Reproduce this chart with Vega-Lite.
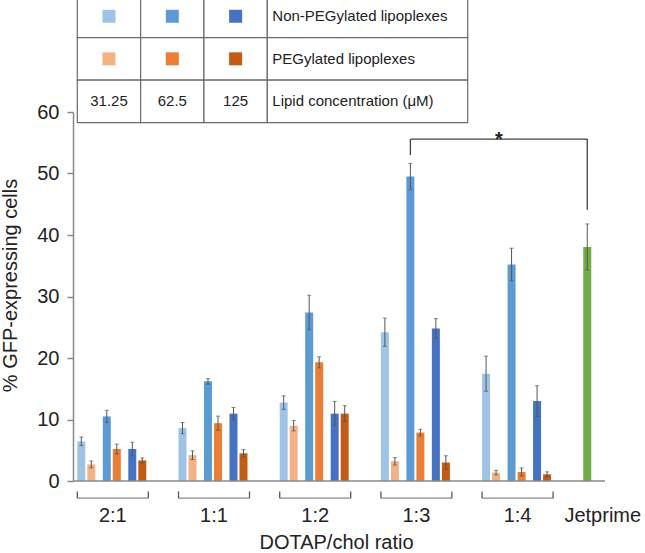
{
  "$schema": "https://vega.github.io/schema/vega-lite/v6.json",
  "width": 532,
  "height": 369,
  "autosize": {"type": "none"},
  "padding": {"left": 73, "top": 112, "right": 40, "bottom": 72},
  "config": {"font": "Liberation Sans", "view": {"stroke": null}},
  "datasets": {
    "bars": [
      {"ratio": "2:1", "coating": "Non-PEGylated", "conc": "31.25", "pct": 6.45, "sd": 0.7},
      {"ratio": "2:1", "coating": "PEGylated", "conc": "31.25", "pct": 2.7, "sd": 0.55},
      {"ratio": "2:1", "coating": "Non-PEGylated", "conc": "62.5", "pct": 10.5, "sd": 1.0},
      {"ratio": "2:1", "coating": "PEGylated", "conc": "62.5", "pct": 5.2, "sd": 0.8},
      {"ratio": "2:1", "coating": "Non-PEGylated", "conc": "125", "pct": 5.2, "sd": 1.1},
      {"ratio": "2:1", "coating": "PEGylated", "conc": "125", "pct": 3.35, "sd": 0.4},
      {"ratio": "1:1", "coating": "Non-PEGylated", "conc": "31.25", "pct": 8.6, "sd": 0.9},
      {"ratio": "1:1", "coating": "PEGylated", "conc": "31.25", "pct": 4.2, "sd": 0.7},
      {"ratio": "1:1", "coating": "Non-PEGylated", "conc": "62.5", "pct": 16.2, "sd": 0.45},
      {"ratio": "1:1", "coating": "PEGylated", "conc": "62.5", "pct": 9.4, "sd": 1.15},
      {"ratio": "1:1", "coating": "Non-PEGylated", "conc": "125", "pct": 10.95, "sd": 1.0},
      {"ratio": "1:1", "coating": "PEGylated", "conc": "125", "pct": 4.5, "sd": 0.6},
      {"ratio": "1:2", "coating": "Non-PEGylated", "conc": "31.25", "pct": 12.75, "sd": 1.1},
      {"ratio": "1:2", "coating": "PEGylated", "conc": "31.25", "pct": 9.0, "sd": 0.85},
      {"ratio": "1:2", "coating": "Non-PEGylated", "conc": "62.5", "pct": 27.4, "sd": 2.8},
      {"ratio": "1:2", "coating": "PEGylated", "conc": "62.5", "pct": 19.3, "sd": 0.9},
      {"ratio": "1:2", "coating": "Non-PEGylated", "conc": "125", "pct": 10.95, "sd": 2.0},
      {"ratio": "1:2", "coating": "PEGylated", "conc": "125", "pct": 10.95, "sd": 1.3},
      {"ratio": "1:3", "coating": "Non-PEGylated", "conc": "31.25", "pct": 24.2, "sd": 2.3},
      {"ratio": "1:3", "coating": "PEGylated", "conc": "31.25", "pct": 3.2, "sd": 0.6},
      {"ratio": "1:3", "coating": "Non-PEGylated", "conc": "62.5", "pct": 49.5, "sd": 2.15},
      {"ratio": "1:3", "coating": "PEGylated", "conc": "62.5", "pct": 7.87, "sd": 0.55},
      {"ratio": "1:3", "coating": "Non-PEGylated", "conc": "125", "pct": 24.8, "sd": 1.6},
      {"ratio": "1:3", "coating": "PEGylated", "conc": "125", "pct": 3.0, "sd": 1.1},
      {"ratio": "1:4", "coating": "Non-PEGylated", "conc": "31.25", "pct": 17.45, "sd": 2.85},
      {"ratio": "1:4", "coating": "PEGylated", "conc": "31.25", "pct": 1.36, "sd": 0.37},
      {"ratio": "1:4", "coating": "Non-PEGylated", "conc": "62.5", "pct": 35.2, "sd": 2.65},
      {"ratio": "1:4", "coating": "PEGylated", "conc": "62.5", "pct": 1.47, "sd": 0.65},
      {"ratio": "1:4", "coating": "Non-PEGylated", "conc": "125", "pct": 13.0, "sd": 2.5},
      {"ratio": "1:4", "coating": "PEGylated", "conc": "125", "pct": 1.09, "sd": 0.4}
    ],
    "jet": [
      {"ratio": "Jetprime", "reagent": "jetPRIME", "pct": 38.05, "sd": 3.75}
    ],
    "sig": [
      {"from": "1:3", "to": "Jetprime", "top": 55.6, "fromEnd": 53.0, "toEnd": 44.1, "label": "*"}
    ],
    "legend": [
      {"row": "Non-PEGylated lipoplexes", "coating": "Non-PEGylated", "conc": "31.25"},
      {"row": "Non-PEGylated lipoplexes", "coating": "Non-PEGylated", "conc": "62.5"},
      {"row": "Non-PEGylated lipoplexes", "coating": "Non-PEGylated", "conc": "125"},
      {"row": "PEGylated lipoplexes", "coating": "PEGylated", "conc": "31.25"},
      {"row": "PEGylated lipoplexes", "coating": "PEGylated", "conc": "62.5"},
      {"row": "PEGylated lipoplexes", "coating": "PEGylated", "conc": "125"},
      {"row": "Lipid concentration (μM)", "coating": "none", "conc": "31.25"},
      {"row": "Lipid concentration (μM)", "coating": "none", "conc": "62.5"},
      {"row": "Lipid concentration (μM)", "coating": "none", "conc": "125"}
    ]
  },
  "resolve": {"scale": {"x": "independent", "y": "independent"}},
  "layer": [
    {
      "resolve": {"scale": {"xOffset": "independent", "color": "independent"}},
      "layer": [
        {
          "data": {"name": "bars"},
          "transform": [{"filter": "datum.coating === 'Non-PEGylated'"}],
          "encoding": {
            "x": {"field": "ratio", "type": "nominal", "sort": null, "title": "DOTAP/chol ratio",
              "scale": {"domain": ["2:1", "1:1", "1:2", "1:3", "1:4", "Jetprime"], "range": [4.3, 581.3], "paddingInner": 0.298, "paddingOuter": 0},
              "axis": {"title": "DOTAP/chol ratio", "domain": false, "ticks": false, "grid": false, "labelAngle": 0,
                "labelFontSize": 20, "labelColor": "#222", "labelPadding": 40.7, "labelBaseline": "alphabetic",
                "labelOffset": {"condition": {"test": "datum.value === 'Jetprime'", "value": -16}, "value": 0},
                "titleFontSize": 20, "titleFontWeight": "normal", "titleColor": "#222", "titleX": 263, "titleY": 67, "titleBaseline": "alphabetic"}},
            "xOffset": {"field": "conc", "type": "nominal", "sort": null,
              "scale": {"domain": ["31.25", "62.5", "125"], "range": [0, 59], "paddingInner": 0.686, "paddingOuter": 0}}
          },
          "layer": [
            {
              "mark": {"type": "bar"},
              "encoding": {
                "y": {"field": "pct", "type": "quantitative", "title": "% GFP-expressing cells",
                  "scale": {"domain": [0, 60], "nice": false},
                  "axis": {"title": "% GFP-expressing cells", "values": [0, 10, 20, 30, 40, 50, 60], "grid": false,
                    "domainColor": "#898989", "domainWidth": 1.5, "tickColor": "#898989", "tickWidth": 1.5, "tickSize": 6,
                    "labelFontSize": 20, "labelColor": "#222", "labelPadding": 8,
                    "titleFontSize": 20, "titleFontWeight": "normal", "titleColor": "#222",
                    "titleX": -56.4, "titleY": 173, "titleBaseline": "alphabetic"}},
                "color": {"field": "conc", "type": "nominal", "scale": {"domain": ["31.25", "62.5", "125"], "range": ["#9DC3E6", "#5B9BD5", "#4472C4"]}, "legend": null}
              }
            },
            {
              "mark": {"type": "errorbar", "ticks": {"size": 4, "thickness": 1, "color": "#555555"}, "rule": {"color": "#555555", "strokeWidth": 1}},
              "encoding": {"y": {"field": "pct", "type": "quantitative", "title": "% GFP-expressing cells"}, "yError": {"field": "sd"}}
            }
          ]
        },
        {
          "data": {"name": "bars"},
          "transform": [{"filter": "datum.coating === 'PEGylated'"}],
          "encoding": {
            "x": {"field": "ratio", "type": "nominal", "sort": null, "title": "DOTAP/chol ratio",
              "scale": {"domain": ["2:1", "1:1", "1:2", "1:3", "1:4", "Jetprime"], "range": [4.3, 581.3], "paddingInner": 0.298, "paddingOuter": 0}},
            "xOffset": {"field": "conc", "type": "nominal", "sort": null,
              "scale": {"domain": ["31.25", "62.5", "125"], "range": [10, 69], "paddingInner": 0.686, "paddingOuter": 0}}
          },
          "layer": [
            {
              "mark": {"type": "bar"},
              "encoding": {
                "y": {"field": "pct", "type": "quantitative", "title": "% GFP-expressing cells"},
                "color": {"field": "conc", "type": "nominal", "scale": {"domain": ["31.25", "62.5", "125"], "range": ["#F4B183", "#ED7D31", "#C55A11"]}, "legend": null}
              }
            },
            {
              "mark": {"type": "errorbar", "ticks": {"size": 4, "thickness": 1, "color": "#555555"}, "rule": {"color": "#555555", "strokeWidth": 1}},
              "encoding": {"y": {"field": "pct", "type": "quantitative", "title": "% GFP-expressing cells"}, "yError": {"field": "sd"}}
            }
          ]
        },
        {
          "data": {"name": "jet"},
          "encoding": {
            "x": {"field": "ratio", "type": "nominal", "sort": null, "title": "DOTAP/chol ratio",
              "scale": {"domain": ["2:1", "1:1", "1:2", "1:3", "1:4", "Jetprime"], "range": [4.3, 581.3], "paddingInner": 0.298, "paddingOuter": 0}},
            "xOffset": {"field": "reagent", "type": "nominal",
              "scale": {"domain": ["jetPRIME"], "range": [0, 8], "paddingInner": 0, "paddingOuter": 0}}
          },
          "layer": [
            {"mark": {"type": "bar", "color": "#70AD47"}, "encoding": {"y": {"field": "pct", "type": "quantitative", "title": "% GFP-expressing cells"}}},
            {
              "mark": {"type": "errorbar", "ticks": {"size": 4, "thickness": 1, "color": "#555555"}, "rule": {"color": "#555555", "strokeWidth": 1}},
              "encoding": {"y": {"field": "pct", "type": "quantitative", "title": "% GFP-expressing cells"}, "yError": {"field": "sd"}}
            }
          ]
        },
        {
          "data": {"name": "jet"},
          "mark": {"type": "rule", "color": "#898989", "strokeWidth": 1.5},
          "encoding": {"y": {"datum": 0, "type": "quantitative", "title": "% GFP-expressing cells"}}
        },
        {
          "data": {"name": "bars"},
          "transform": [{"filter": "datum.coating === 'Non-PEGylated' && datum.conc === '31.25'"}],
          "encoding": {
            "x": {"field": "ratio", "type": "nominal", "sort": null, "title": "DOTAP/chol ratio",
              "scale": {"domain": ["2:1", "1:1", "1:2", "1:3", "1:4", "Jetprime"], "range": [4.3, 581.3], "paddingInner": 0.298, "paddingOuter": 0}}
          },
          "layer": [
            {"mark": {"type": "tick", "orient": "horizontal", "size": 71, "thickness": 1.3, "color": "#595959"},
             "encoding": {"y": {"datum": -2.8, "type": "quantitative", "title": "% GFP-expressing cells"}}},
            {"mark": {"type": "rule", "color": "#595959", "strokeWidth": 1.3, "xOffset": -35.5},
             "encoding": {"y": {"datum": -1.7, "type": "quantitative", "title": "% GFP-expressing cells"}, "y2": {"datum": -2.8}}},
            {"mark": {"type": "rule", "color": "#595959", "strokeWidth": 1.3, "xOffset": 35.5},
             "encoding": {"y": {"datum": -1.7, "type": "quantitative", "title": "% GFP-expressing cells"}, "y2": {"datum": -2.8}}}
          ]
        },
        {
          "data": {"name": "sig"},
          "layer": [
            {"mark": {"type": "rule", "color": "#404040", "strokeWidth": 1.3, "xOffset": -6, "x2Offset": -31.5},
             "encoding": {
               "x": {"field": "from", "type": "nominal", "sort": null, "title": "DOTAP/chol ratio",
                 "scale": {"domain": ["2:1", "1:1", "1:2", "1:3", "1:4", "Jetprime"], "range": [4.3, 581.3], "paddingInner": 0.298, "paddingOuter": 0}},
               "x2": {"field": "to"},
               "y": {"field": "top", "type": "quantitative", "title": "% GFP-expressing cells"}}},
            {"mark": {"type": "rule", "color": "#404040", "strokeWidth": 1.3, "xOffset": -6},
             "encoding": {
               "x": {"field": "from", "type": "nominal", "sort": null, "title": "DOTAP/chol ratio"},
               "y": {"field": "top", "type": "quantitative", "title": "% GFP-expressing cells"},
               "y2": {"field": "fromEnd"}}},
            {"mark": {"type": "rule", "color": "#404040", "strokeWidth": 1.3, "xOffset": -31.5},
             "encoding": {
               "x": {"field": "to", "type": "nominal", "sort": null, "title": "DOTAP/chol ratio"},
               "y": {"field": "top", "type": "quantitative", "title": "% GFP-expressing cells"},
               "y2": {"field": "toEnd"}}},
            {"mark": {"type": "text", "fontSize": 20, "fontWeight": "bold", "color": "#222", "baseline": "alphabetic", "dx": 82.5, "dy": 6.5},
             "encoding": {
               "x": {"field": "from", "type": "nominal", "sort": null, "title": "DOTAP/chol ratio"},
               "y": {"field": "top", "type": "quantitative", "title": "% GFP-expressing cells"},
               "text": {"field": "label"}}}
          ]
        }
      ]
    },
    {
      "resolve": {"scale": {"x": "independent"}},
      "layer": [
        {
          "data": {"name": "legend"},
          "resolve": {"scale": {"color": "independent"}},
          "encoding": {
            "x": {"field": "conc", "type": "nominal", "sort": null,
              "scale": {"domain": ["31.25", "62.5", "125"], "range": [4.3, 194.3], "paddingInner": 0, "paddingOuter": 0}, "axis": null},
            "y": {"field": "row", "type": "nominal", "sort": null,
              "scale": {"domain": ["Non-PEGylated lipoplexes", "PEGylated lipoplexes", "Lipid concentration (μM)"], "range": [-117, 10.7], "paddingInner": 0, "paddingOuter": 0}, "axis": null}
          },
          "layer": [
            {"mark": {"type": "rect", "fill": "white", "stroke": "#6b6b6b", "strokeWidth": 1.2}},
            {"transform": [{"filter": "datum.coating === 'Non-PEGylated'"}],
             "mark": {"type": "point", "shape": "square", "filled": true, "size": 169, "opacity": 1},
             "encoding": {"color": {"field": "conc", "type": "nominal", "scale": {"domain": ["31.25", "62.5", "125"], "range": ["#9DC3E6", "#5B9BD5", "#4472C4"]}, "legend": null}}},
            {"transform": [{"filter": "datum.coating === 'PEGylated'"}],
             "mark": {"type": "point", "shape": "square", "filled": true, "size": 169, "opacity": 1},
             "encoding": {"color": {"field": "conc", "type": "nominal", "scale": {"domain": ["31.25", "62.5", "125"], "range": ["#F4B183", "#ED7D31", "#C55A11"]}, "legend": null}}},
            {"transform": [{"filter": "datum.coating === 'none'"}],
             "mark": {"type": "text", "fontSize": 15, "color": "#222"},
             "encoding": {"text": {"field": "conc"}}}
          ]
        },
        {
          "data": {"name": "legend"},
          "transform": [{"filter": "datum.conc === '31.25'"}],
          "encoding": {
            "x": {"datum": "description", "type": "nominal",
              "scale": {"domain": ["description"], "range": [194.3, 394.7], "paddingInner": 0, "paddingOuter": 0}, "axis": null},
            "y": {"field": "row", "type": "nominal", "sort": null}
          },
          "layer": [
            {"mark": {"type": "rect", "fill": "white", "stroke": "#6b6b6b", "strokeWidth": 1.2}},
            {"mark": {"type": "text", "align": "left", "dx": 5, "fontSize": 15, "color": "#222"},
             "encoding": {"x": {"datum": "description", "type": "nominal", "bandPosition": 0}, "text": {"field": "row"}}}
          ]
        }
      ]
    }
  ]
}
